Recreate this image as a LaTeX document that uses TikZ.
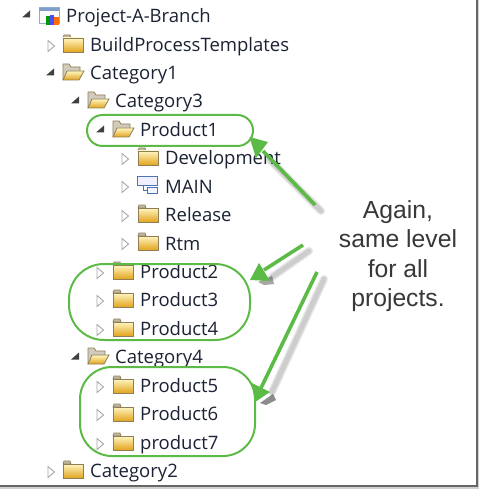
\documentclass[tikz,border=0pt]{standalone}
\usepackage{fontspec}
\setmainfont{Open Sans}
\newfontfamily\calloutfont{Liberation Sans}
\definecolor{treeink}{HTML}{1B2233}
\definecolor{markgreen}{HTML}{5CBB46}
\definecolor{foldertop}{HTML}{FFF6C0}
\definecolor{folderlow}{HTML}{E2A41E}
\definecolor{folderedge}{HTML}{8F7E58}
\definecolor{mainblue}{HTML}{4A74B4}
\begin{document}
\begin{tikzpicture}[x=1pt, y=-1pt,
  item/.style={anchor=base west, inner sep=0pt, yshift=-0.7pt, font=\fontsize{18.5}{22}\selectfont, text=treeink},
  callout/.style={align=center, inner sep=0pt, text=black!78,
                  font=\calloutfont\fontsize{24.7}{29.4}\selectfont},
  ring/.style={draw=markgreen, line width=2pt, fill=none},
  pointer/.style={draw=markgreen, fill=markgreen, line width=3.6pt},
  haze/.style={line cap=round, draw=black, opacity=0.1},
  expanded/.pic={\fill[black!75] (-4,2.5) -- (4,2.5) -- (4,-4.5) -- cycle;},
  collapsed/.pic={\draw[black!35, fill=white, line width=0.9pt] (-3,-5.5) -- (3.5,0) -- (-3,5.5) -- cycle;},
  shutfolder/.pic={
    \draw[folderedge, fill=folderedge!55, line width=0.7pt] (-10,-6) -- (-9,-9) -- (-3,-9) -- (-2,-6) -- cycle;
    \draw[folderedge, top color=foldertop, bottom color=folderlow, line width=0.8pt]
      (-10,-6) rectangle (10,8);
  },
  openfolder/.pic={
    \draw[folderedge, fill=folderedge!40, line width=0.8pt]
      (-10,8) -- (-10,-8) -- (-4,-8) -- (-2,-5) -- (7,-5) -- (7,-1);
    \draw[folderedge, top color=foldertop, bottom color=folderlow, line width=0.8pt]
      (-10,8) -- (-6,-1) -- (11,-1) -- (6,8) -- cycle;
  },
]
  \useasboundingbox (0,0) rectangle (480,489);
  \fill[white] (0,0) rectangle (480,489);
  \draw[black!18, line width=1.5pt] (478.5,0) -- (478.5,488) -- (0,488);
  \draw[black!60, line width=1.6pt] (476.8,0) -- (476.8,486) -- (0,486);

  \pic at (26,15) {expanded};
  \draw[mainblue!60, fill=black!2, line width=1pt] (39,8) rectangle (59,24);
  \fill[mainblue!70] (39,8) rectangle (59,11);
  \fill[green!60!black] (46,16) rectangle (50,25);
  \fill[blue!70] (50,15) rectangle (54,25);
  \fill[orange!85!red] (54,17) rectangle (59,25);
  \node[item] (root) at (66,22) {Project-A-Branch};

  \pic at (51,46) {collapsed};
  \pic at (73,44) {shutfolder};
  \node[item] (build) at (90,51) {BuildProcessTemplates};

  \pic at (50,73) {expanded};
  \pic at (73,72) {openfolder};
  \node[item] (cat1) at (90,79) {Category1};

  \pic at (75,101) {expanded};
  \pic at (98,100) {openfolder};
  \node[item] (cat3) at (115,107) {Category3};

  \pic at (100,130) {expanded};
  \pic at (123,129) {openfolder};
  \node[item] (prod1) at (140,136) {Product1};

  \pic at (125,159) {collapsed};
  \pic at (148,157) {shutfolder};
  \node[item] (dev) at (165,164) {Development};

  \pic at (125,187) {collapsed};
  \draw[mainblue, fill=blue!6, line width=1pt] (137.5,176.5) rectangle (157,185);
  \draw[mainblue, fill=blue!4, line width=1pt] (147,187) rectangle (157,193);
  \draw[mainblue, line width=1pt] (143,185) |- (147,190);
  \node[item] (main) at (165,193) {MAIN};

  \pic at (125,216) {collapsed};
  \pic at (148,214) {shutfolder};
  \node[item] (rel) at (165,221) {Release};

  \pic at (125,244) {collapsed};
  \pic at (148,242) {shutfolder};
  \node[item] (rtm) at (165,250) {Rtm};

  \pic at (100,273) {collapsed};
  \pic at (123,271) {shutfolder};
  \node[item] (prod2) at (140,278) {Product2};

  \pic at (100,301) {collapsed};
  \pic at (123,299) {shutfolder};
  \node[item] (prod3) at (140,306) {Product3};

  \pic at (100,330) {collapsed};
  \pic at (123,328) {shutfolder};
  \node[item] (prod4) at (140,335) {Product4};

  \pic at (75,357) {expanded};
  \pic at (98,356) {openfolder};
  \node[item] (cat4) at (115,363) {Category4};

  \pic at (100,387) {collapsed};
  \pic at (123,385) {shutfolder};
  \node[item] (prod5) at (140,392) {Product5};

  \pic at (100,415) {collapsed};
  \pic at (123,413) {shutfolder};
  \node[item] (prod6) at (140,420) {Product6};

  \pic at (100,444) {collapsed};
  \pic at (123,442) {shutfolder};
  \node[item] (prod7) at (140,449) {product7};

  \pic at (51,472) {collapsed};
  \pic at (73,470) {shutfolder};
  \node[item] (cat2) at (90,477) {Category2};

  \node[callout] (note) at (398,256) {Again,\\same level\\for all\\projects.};

  \node[ring, rounded corners=15.5pt, minimum width=166pt, minimum height=31pt] (ringa) at (170,130.5) {};
  \node[ring, rounded corners=35pt, minimum width=181pt, minimum height=76pt] (ringb) at (159.5,302) {};
  \node[ring, rounded corners=32pt, minimum width=175pt, minimum height=89pt] (ringc) at (167.5,411.5) {};

  \coordinate (taila) at (315,205);
  \coordinate (tailb) at (303,245);
  \coordinate (tailc) at (317,272);
  \coordinate (tipa) at (249.5,137);
  \coordinate (tipb) at (250,280);
  \coordinate (tipc) at (255,402);

  \draw[haze, line width=8pt] (321,211) -- (270,160);
  \draw[haze, line width=5pt] (321,211) -- (270,160);
  \draw[haze, line width=8pt] (309,251) -- (272,277);
  \draw[haze, line width=5pt] (309,251) -- (272,277);
  \fill[black, opacity=0.35] (258,282) -- (272,276) -- (274,284) -- (264,285) -- cycle;
  \draw[haze, line width=8pt] (324,279) -- (272,392);
  \draw[haze, line width=5pt] (324,279) -- (272,392);
  \fill[black, opacity=0.45] (260,403) -- (273,394) -- (276,400) -- (266,405) -- cycle;

  \draw[pointer] (taila) -- (263,151);
  \fill[markgreen] (tipa) -- (268,142) -- (256,158) -- cycle;
  \draw[pointer] (tailb) -- (264,270);
  \fill[markgreen] (tipb) -- (259,263) -- (270,281) -- cycle;
  \draw[pointer] (tailc) -- (261,388);
  \fill[markgreen] (tipc) -- (252,383) -- (270,392) -- cycle;
\end{tikzpicture}
\end{document}
